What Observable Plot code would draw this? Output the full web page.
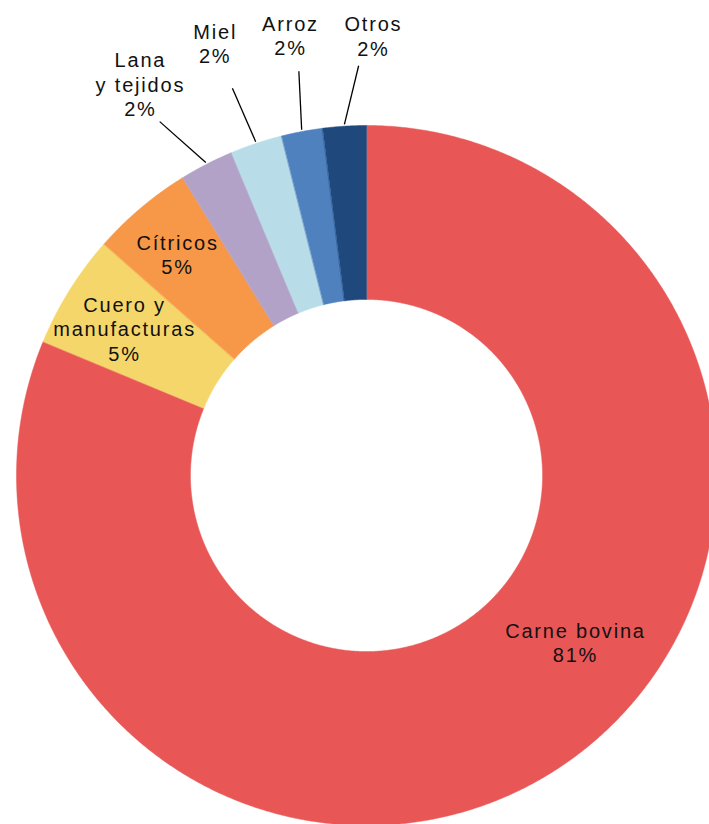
<!DOCTYPE html>
<html>
<head>
<meta charset="utf-8">
<script src="https://cdn.jsdelivr.net/npm/d3@7"></script>
<script src="https://cdn.jsdelivr.net/npm/@observablehq/plot@0.6"></script>
<style>
  html, body { margin: 0; padding: 0; background: #fff; overflow: hidden; }
  #chart { width: 709px; height: 824px; overflow: hidden; position: relative; }
  #chart svg { overflow: hidden; }
</style>
</head>
<body>
<div id="chart"></div>
<script>
// ---- data ----
const categories = ["Carne bovina", "Cuero y manufacturas", "Cítricos", "Lana y tejidos", "Miel", "Arroz", "Otros"];
const labelTexts = ["Carne bovina\n81%", "Cuero y\nmanufacturas\n5%", "Cítricos\n5%", "Lana\ny tejidos\n2%", "Miel\n2%", "Arroz\n2%", "Otros\n2%"];
const shares = [81.25, 5.25, 4.7, 2.5, 2.4, 1.9, 2.0];
const colors = ["#E85656", "#F5D66A", "#F79748", "#B3A2C8", "#B8DDE8", "#4F81BE", "#1F497D"];

// ---- layout (label placement, polar: degrees clockwise from top, radius in outer-radius units) ----
const layout = {
  width: 709, height: 824,
  cx: 366, cy: 475, outerPx: 350, innerRatio: 0.503,
  labelAngle: [128.6, 301.3, 319.5, 330, 340.7, 350.2, 0.9],
  labelRadius: [0.764, 0.809, 0.831, 1.292, 1.308, 1.276, 1.257],
  leaderAngle: [null, null, null, 329.7, 340.9, 350.5, 358.9],
  leaderRadius: 1.171
};

const pie = d3.pie().sort(null).value(d => d.value)
  .startAngle(0).endAngle(2 * Math.PI);
const arcs = pie(categories.map((c, i) => ({category: c, value: shares[i]})));

const polar = (a, r) => ({x: r * Math.sin(a), y: r * Math.cos(a)});
const rIn = layout.innerRatio;

// polygon points for each slice
const slicePts = [];
arcs.forEach(a => {
  const n = Math.max(8, Math.ceil((a.endAngle - a.startAngle) / 0.005));
  const outer = d3.range(n + 1).map(k => a.startAngle + (a.endAngle - a.startAngle) * k / n);
  outer.forEach(t => slicePts.push({category: a.data.category, ...polar(t, 1)}));
  outer.slice().reverse().forEach(t => slicePts.push({category: a.data.category, ...polar(t, rIn)}));
});

const deg = Math.PI / 180;
const labels = arcs.map((a, i) => ({
  text: labelTexts[i],
  ...polar(layout.labelAngle[i] * deg, layout.labelRadius[i])
}));
const leaders = arcs.map((a, i) => {
  if (layout.leaderAngle[i] == null) return null;
  const mid = (a.startAngle + a.endAngle) / 2;
  const s = polar(layout.leaderAngle[i] * deg, layout.leaderRadius);
  const e = polar(mid, 1.005);
  return {x1: s.x, y1: s.y, x2: e.x, y2: e.y};
}).filter(d => d);

const R = layout.outerPx;
const plot = Plot.plot({
  width: layout.width,
  height: layout.height,
  margin: 0,
  x: {domain: [-layout.cx / R, (layout.width - layout.cx) / R], axis: null},
  y: {domain: [-(layout.height - layout.cy) / R, layout.cy / R], axis: null},
  color: {domain: categories, range: colors},
  style: {fontFamily: "'Liberation Sans', Arial, sans-serif", background: "#fff"},
  marks: [
    Plot.line(slicePts, {x: "x", y: "y", z: "category", fill: "category", stroke: "category", strokeWidth: 0.5, curve: "linear-closed"}),
    Plot.link(leaders, {x1: "x1", y1: "y1", x2: "x2", y2: "y2", stroke: "#000", strokeWidth: 1.3}),
    Plot.text(labels, {x: "x", y: "y", text: "text", fontSize: 20, lineHeight: 1.22, fill: "#111", lineAnchor: "middle", textAnchor: "middle"})
  ]
});
plot.querySelectorAll("text").forEach(t => t.style.letterSpacing = "1.8px");
document.getElementById("chart").appendChild(plot);
</script>
</body>
</html>
